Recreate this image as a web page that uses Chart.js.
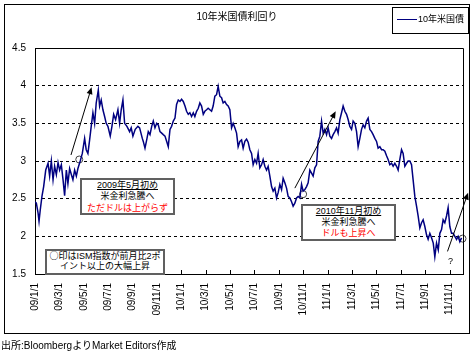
<!DOCTYPE html>
<html lang="ja">
<head>
<meta charset="utf-8">
<script src="https://cdn.jsdelivr.net/npm/chart.js@4/dist/chart.umd.min.js"></script>
<style>
  body { margin: 0; background: #fff; font-family: "Liberation Sans", "Noto Sans CJK JP", sans-serif; color: #000; }
  #wrap { position: relative; width: 473px; height: 354px; overflow: hidden; }
  canvas { position: absolute; left: 0; top: 0; }
  .abs { position: absolute; white-space: nowrap; }
  #frame { left: 4px; top: 4px; width: 466px; height: 330px; border: 1px solid #000; box-sizing: border-box; }
  #title { left: 0; top: 11px; width: 474px; text-align: center; font-size: 10px; line-height: 12px; }
  #legend { left: 392px; top: 7px; width: 77px; height: 27px; border: 1px solid #000; box-sizing: border-box; background: #fff; font-size: 9px; }
  #legend .swatch { position: absolute; left: 4px; top: 11px; width: 20px; border-top: 1px solid #000080; }
  #legend .txt { position: absolute; left: 25px; top: 5px; line-height: 12px; }
  .note { background: #fff; border: 2px solid #606060; box-sizing: border-box; text-align: center; font-size: 9px; }
  .note u { text-decoration: underline; }
  .red { color: #ff0000; }
  .cjk { font-family: "Noto Sans CJK JP", sans-serif; }
  #note1 { left: 80px; top: 178px; width: 95px; height: 37px; line-height: 11.3px; }
  #note2 { left: 301px; top: 204px; width: 95px; height: 37px; line-height: 10.8px; }
  #note3 { left: 45px; top: 249px; width: 120px; height: 26px; line-height: 10px; }
  #q { left: 448px; top: 255px; font-size: 9px; line-height: 12px; }
  #source { left: 1px; top: 340px; font-size: 10px; line-height: 12px; }
</style>
</head>
<body>
<div id="wrap">
  <div id="frame" class="abs"></div>
  <canvas id="chart" width="473" height="354"></canvas>
  <div id="title" class="abs">10年米国債利回り</div>
  <div id="legend" class="abs"><span class="swatch"></span><span class="txt">10年米国債</span></div>
  <div id="note1" class="abs note"><u>2009年5月初め</u><br>米金利急騰へ<br><span class="red">ただドルは上がらず</span></div>
  <div id="note2" class="abs note"><u>2010年11月初め</u><br>米金利急騰へ<br><span class="red">ドルも上昇へ</span></div>
  <div id="note3" class="abs note"><span class="cjk">○</span>印はISM指数が前月比2ポ<br>イント以上の大幅上昇</div>
  <div id="q" class="abs">?</div>
  <div id="source" class="abs">出所:BloombergよりMarket Editors作成</div>
</div>
<script>
// x = months since 2009/1/1
const tickLabels = ['09/1/1', '09/3/1', '09/5/1', '09/7/1', '09/9/1', '09/11/1',
  '10/1/1', '10/3/1', '10/5/1', '10/7/1', '10/9/1', '10/11/1',
  '11/1/1', '11/3/1', '11/5/1', '11/7/1', '11/9/1', '11/11/1'];

const monthIdx = [
  // 2009
  0, 0.11, 0.25, 0.33, 0.43, 0.57, 0.71, 0.88, 1.07, 1.2,
  1.34, 1.48, 1.61, 1.75, 1.89, 2.02, 2.16, 2.3, 2.43, 2.57,
  2.7, 2.84, 2.98, 3.11, 3.25, 3.39, 3.52, 3.71, 3.88, 4.07,
  4.2, 4.34, 4.48, 4.61, 4.75, 4.89, 5.02, 5.19, 5.3, 5.43,
  5.57, 5.71, 5.84, 5.98, 6.17, 6.31, 6.45, 6.61, 6.8, 6.94,
  7.07, 7.21, 7.35, 7.54, 7.76, 7.89, 8.03, 8.22, 8.44, 8.58,
  8.8, 8.88, 9.02, 9.16, 9.29, 9.43, 9.57, 9.7, 9.84, 9.98,
  10.11, 10.25, 10.39, 10.52, 10.66, 10.8, 10.93, 11.07, 11.2, 11.34,
  11.48, 11.61, 11.75, 11.89,
  // 2010
  12.02, 12.16, 12.3, 12.43, 12.57, 12.7, 12.84, 12.98, 13.11, 13.25,
  13.39, 13.52, 13.66, 13.8, 13.93, 14.07, 14.2, 14.34, 14.48, 14.61,
  14.75, 14.89, 15.02, 15.16, 15.3, 15.43, 15.57, 15.71, 15.84, 15.98,
  16.12, 16.25, 16.39, 16.53, 16.66, 16.8, 16.94, 17.07, 17.21, 17.35,
  17.48, 17.62, 17.76, 17.89, 18.03, 18.17, 18.3, 18.44, 18.58, 18.71,
  18.85, 18.99, 19.12, 19.26, 19.4, 19.53, 19.67, 19.81, 19.94, 20.08,
  20.22, 20.35, 20.49, 20.63, 20.76, 20.9, 21.04, 21.17, 21.31, 21.45,
  21.58, 21.72, 21.86, 21.99, 22.13, 22.27, 22.4, 22.54, 22.68, 22.81,
  22.95, 23.09, 23.22, 23.36, 23.5, 23.63, 23.77, 23.91,
  // 2011
  24.04, 24.18, 24.32, 24.45, 24.59, 24.73, 24.86, 25.0, 25.14, 25.27,
  25.41, 25.55, 25.68, 25.82, 25.96, 26.09, 26.23, 26.37, 26.5, 26.64,
  26.78, 26.91, 27.05, 27.19, 27.32, 27.46, 27.6, 27.73, 27.87, 28.01,
  28.14, 28.28, 28.42, 28.55, 28.69, 28.83, 28.96, 29.1, 29.24, 29.37,
  29.51, 29.65, 29.78, 29.92, 30.06, 30.19, 30.33, 30.47, 30.6, 30.74,
  30.88, 31.01, 31.15, 31.29, 31.42, 31.56, 31.7, 31.83, 31.97, 32.11,
  32.24, 32.38, 32.52, 32.66, 32.79, 32.93, 33.07, 33.2, 33.34, 33.47,
  33.61, 33.75, 33.88, 34.02, 34.16, 34.29, 34.43, 34.57, 34.7, 34.84,
  34.98
];

const yields = [
  // 2009
  2.46, 2.44, 2.31, 2.2, 2.35, 2.53, 2.66, 2.88, 2.97, 2.8,
  3.0, 2.75, 2.93, 2.82, 2.98, 2.88, 2.95, 2.75, 2.54, 2.88,
  2.7, 2.9, 2.82, 2.75, 2.88, 2.8, 2.9, 3.0, 3.1, 3.3,
  3.15, 3.1, 3.28, 3.46, 3.64, 3.5, 3.77, 3.94, 3.73, 3.81,
  3.68, 3.59, 3.5, 3.46, 3.33, 3.46, 3.62, 3.55, 3.68, 3.5,
  3.68, 3.81, 3.5, 3.46, 3.39, 3.44, 3.33, 3.42, 3.46, 3.44,
  3.3, 3.26, 3.17, 3.28, 3.39, 3.35, 3.46, 3.53, 3.44, 3.5,
  3.48, 3.39, 3.37, 3.35, 3.33, 3.26, 3.19, 3.42, 3.46, 3.53,
  3.57, 3.75, 3.81, 3.79,
  // 2010
  3.82, 3.79, 3.73, 3.66, 3.62, 3.64, 3.59, 3.64, 3.59, 3.66,
  3.7, 3.77, 3.73, 3.62, 3.66, 3.68, 3.7, 3.68, 3.66, 3.73,
  3.86, 3.88, 3.99, 3.86, 3.84, 3.77, 3.79, 3.75, 3.73, 3.68,
  3.44, 3.5, 3.44, 3.37, 3.19, 3.26, 3.28, 3.17, 3.26, 3.29,
  3.25, 3.15, 3.1, 2.95, 3.02, 2.97, 3.1, 2.91, 2.95, 3.02,
  2.93, 2.88, 2.93, 2.8, 2.66, 2.6, 2.64, 2.51, 2.58, 2.69,
  2.62, 2.77, 2.71, 2.64, 2.53, 2.51, 2.46, 2.4, 2.44, 2.51,
  2.53, 2.51, 2.69, 2.6, 2.62, 2.66, 2.71, 2.88, 2.84, 2.8,
  2.91, 2.95, 3.26, 3.33, 3.53, 3.37, 3.42, 3.35,
  // 2011
  3.44, 3.33, 3.3, 3.35, 3.39, 3.44, 3.37, 3.55, 3.64, 3.73,
  3.66, 3.62, 3.55, 3.46, 3.42, 3.53, 3.5, 3.39, 3.19, 3.3,
  3.42, 3.48, 3.44, 3.53, 3.57, 3.42, 3.39, 3.35, 3.3, 3.26,
  3.17, 3.19, 3.15, 3.15, 3.13, 3.07, 3.02, 2.95, 2.97, 2.93,
  2.97, 2.93, 2.88, 3.02, 3.15, 3.1, 2.93, 2.97, 3.0, 3.0,
  2.95, 2.75, 2.53, 2.4, 2.27, 2.11, 2.18, 2.22, 2.13, 2.02,
  1.96, 2.04, 1.98, 1.91, 1.73, 1.91, 1.82, 2.04, 2.09, 2.22,
  2.18, 2.27, 2.38, 2.13, 2.04, 2.04, 2.0, 1.96, 2.0, 1.93,
  1.98
];

// ○ marks: ISM up 2pt or more m/m
const ismMonths = [3.63, 21.99, 35.06];
const ismYields = [3.02, 2.56, 1.97];

// arrows [month, yield]
const arrowFrom = [[2.95, 3.08], [21.31, 2.64], [33.83, 1.80]];
const arrowTo = [[4.64, 3.98], [24.66, 3.66], [35.52, 2.58]];

const extras = {
    id: 'extras',
    afterDatasetsDraw(chart) {
        const { ctx, chartArea: a, scales: { x, y } } = chart;
        ctx.save();
        ctx.strokeStyle = '#000';
        ctx.fillStyle = '#000';
        ctx.lineWidth = 1;
        // top / right frame of plot area
        ctx.beginPath();
        ctx.moveTo(Math.round(a.left) + 0.5, Math.round(a.top) + 0.5);
        ctx.lineTo(Math.round(a.right) + 0.5, Math.round(a.top) + 0.5);
        ctx.lineTo(Math.round(a.right) + 0.5, Math.round(a.bottom) + 0.5);
        ctx.stroke();
        // inward x ticks
        x.ticks.forEach(t => {
            const px = Math.round(x.getPixelForValue(t.value)) + 0.5;
            ctx.beginPath();
            ctx.moveTo(px, a.bottom);
            ctx.lineTo(px, a.bottom - 4);
            ctx.stroke();
        });
        // arrows
        arrowFrom.forEach((f, i) => {
            const x0 = x.getPixelForValue(f[0]), y0 = y.getPixelForValue(f[1]);
            const x1 = x.getPixelForValue(arrowTo[i][0]), y1 = y.getPixelForValue(arrowTo[i][1]);
            const ang = Math.atan2(y1 - y0, x1 - x0);
            ctx.beginPath();
            ctx.moveTo(x0, y0);
            ctx.lineTo(x1 - 5 * Math.cos(ang), y1 - 5 * Math.sin(ang));
            ctx.stroke();
            ctx.beginPath();
            ctx.moveTo(x1, y1);
            ctx.lineTo(x1 - 7 * Math.cos(ang) + 3 * Math.sin(ang), y1 - 7 * Math.sin(ang) - 3 * Math.cos(ang));
            ctx.lineTo(x1 - 7 * Math.cos(ang) - 3 * Math.sin(ang), y1 - 7 * Math.sin(ang) + 3 * Math.cos(ang));
            ctx.closePath();
            ctx.fill();
        });
        ctx.restore();
    }
};

const tickFont = { family: '"Liberation Sans", Arial, sans-serif', size: 10 };

new Chart(document.getElementById('chart'), {
    type: 'line',
    data: {
        datasets: [{
            label: '10年米国債',
            data: monthIdx.map((m, i) => ({ x: m, y: yields[i] })),
            borderColor: '#000080',
            borderWidth: 1.5,
            pointRadius: 0,
            tension: 0,
            fill: false
        }, {
            label: 'ISM',
            data: ismMonths.map((m, i) => ({ x: m, y: ismYields[i] })),
            showLine: false,
            pointRadius: 3.5,
            pointBackgroundColor: '#fff',
            pointBorderColor: '#404040',
            pointBorderWidth: 1,
            clip: false
        }]
    },
    options: {
        responsive: false,
        devicePixelRatio: 1,
        animation: false,
        layout: { padding: { left: 0, top: 48, right: 10, bottom: 0 } },
        plugins: {
            legend: { display: false },
            tooltip: { enabled: false },
            title: { display: false }
        },
        scales: {
            x: {
                type: 'linear',
                min: 0,
                max: 35.1,
                afterFit: (scale) => { scale.height = 80; },
                grid: { drawOnChartArea: false, drawTicks: false },
                border: { display: true, color: '#000', width: 1 },
                ticks: {
                    stepSize: 2,
                    includeBounds: false,
                    autoSkip: false,
                    maxRotation: 90,
                    minRotation: 90,
                    padding: 9,
                    color: '#000',
                    font: tickFont,
                    callback: (v) => tickLabels[v / 2]
                }
            },
            y: {
                min: 1.5,
                max: 4.5,
                afterFit: (scale) => { scale.width = 35; },
                grid: {
                    drawTicks: false,
                    color: (c) => (c.tick && (c.tick.value === 1.5 || c.tick.value === 4.5)) ? 'rgba(0,0,0,0)' : '#000'
                },
                border: { display: true, color: '#000', width: 1, dash: [3, 3] },
                ticks: {
                    stepSize: 0.5,
                    padding: 9,
                    color: '#000',
                    font: tickFont,
                    callback: (v) => String(Number(v.toFixed(1)))
                }
            }
        }
    },
    plugins: [extras]
});
</script>
</body>
</html>
